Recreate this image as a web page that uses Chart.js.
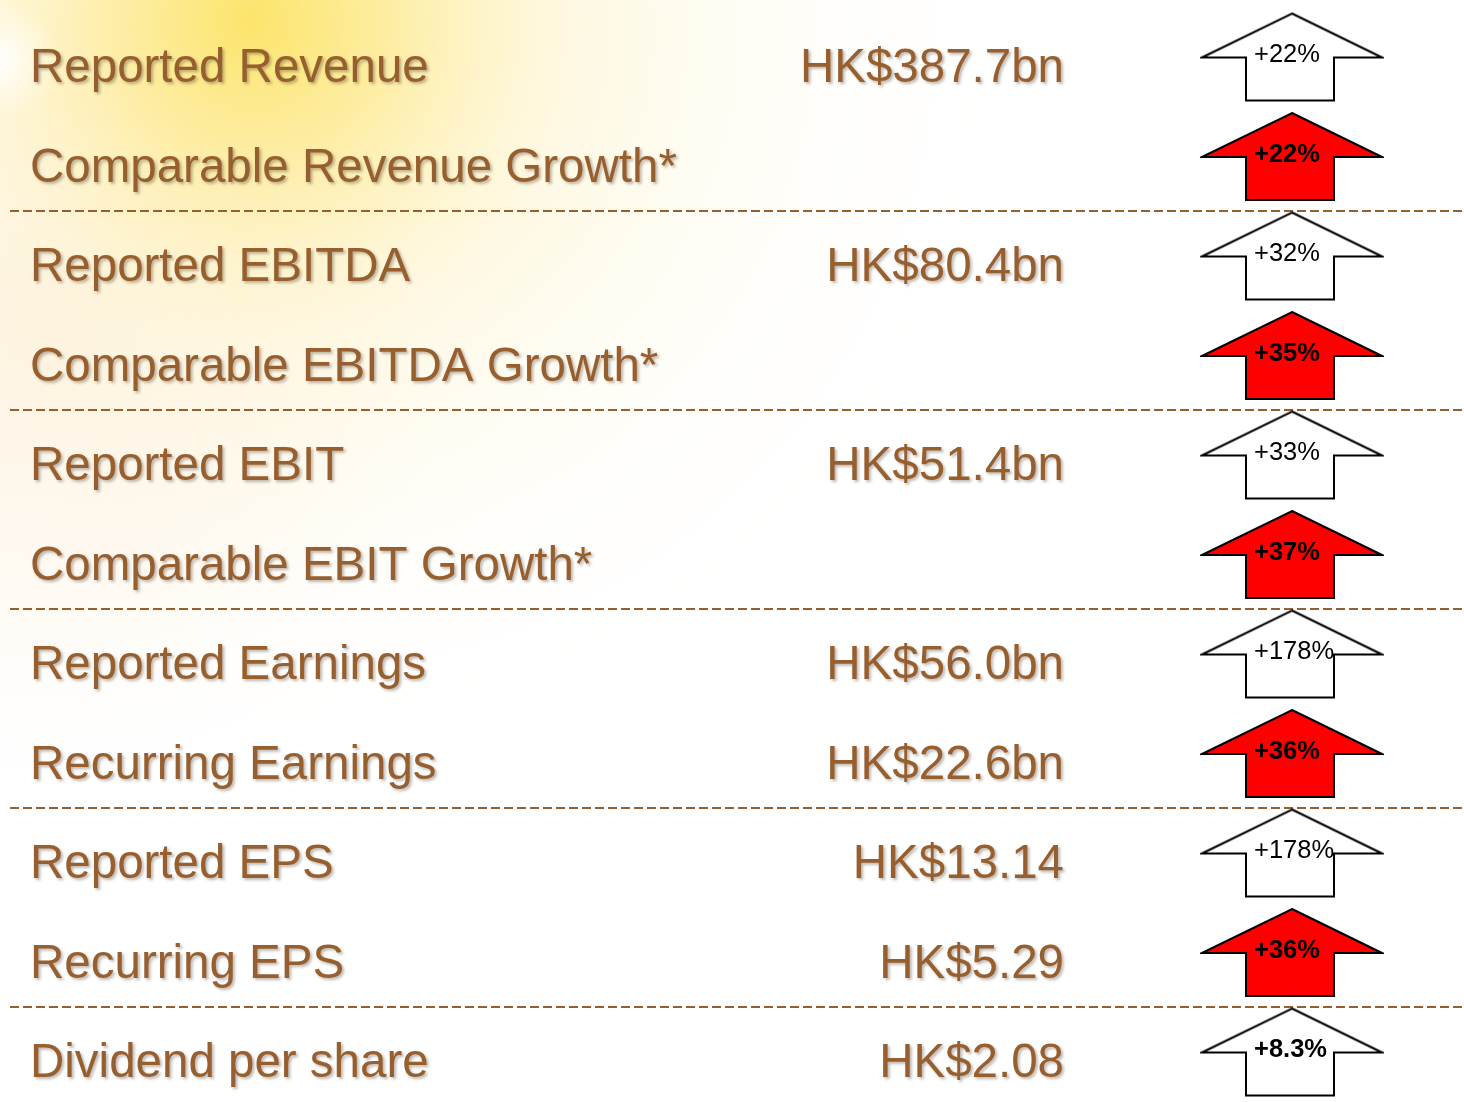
<!DOCTYPE html>
<html>
<head>
<meta charset="utf-8">
<title>Results summary</title>
<script src="https://cdn.jsdelivr.net/npm/chart.js@4.4.0/dist/chart.umd.min.js"></script>
<style>
  html, body { margin: 0; padding: 0; background: #fff; overflow: hidden; }
  #wrap { width: 1464px; height: 1102px; position: relative; }
  #summary { display: block; }
</style>
</head>
<body>
<div id="wrap"><canvas id="summary"></canvas></div>
<script>
// rows of the slide
const metrics = ['Reported Revenue', 'Comparable Revenue Growth*', 'Reported EBITDA', 'Comparable EBITDA Growth*',
  'Reported EBIT', 'Comparable EBIT Growth*', 'Reported Earnings', 'Recurring Earnings',
  'Reported EPS', 'Recurring EPS', 'Dividend per share'];
const amounts = ['HK$387.7bn', '', 'HK$80.4bn', '', 'HK$51.4bn', '', 'HK$56.0bn', 'HK$22.6bn',
  'HK$13.14', 'HK$5.29', 'HK$2.08'];
const growthPct = [22, 22, 32, 35, 33, 37, 178, 36, 178, 36, 8.3];
const redArrow = [false, true, false, true, false, true, false, true, false, true, false];
const boldGrowth = [false, true, false, true, false, true, false, true, false, true, true];
const groupEnds = [1, 3, 5, 7, 9]; // dashed separator after these rows

// layout
const ARROW_X = 1292;
const LABEL_X = 30;
const AMOUNT_RIGHT = 1064;
const BROWN = '#985f2e';
const FONT = '"Liberation Sans", Arial, sans-serif';

// arrow glyph used as point style (offset 8px up inside the image)
function makeArrow(fill) {
  const c = document.createElement('canvas');
  c.width = 184; c.height = 107;
  const g = c.getContext('2d');
  g.beginPath();
  g.moveTo(92, 2);
  g.lineTo(182, 46);
  g.lineTo(134, 46);
  g.lineTo(134, 89);
  g.lineTo(46, 89);
  g.lineTo(46, 46);
  g.lineTo(2, 46);
  g.closePath();
  g.fillStyle = fill;
  g.fill();
  g.lineWidth = 2;
  g.strokeStyle = '#000';
  g.stroke();
  return c;
}
const whiteArrow = makeArrow('#ffffff');
const redArrowImg = makeArrow('#ff0000');

const backdrop = {
  id: 'backdrop',
  beforeDraw(chart) {
    const ctx = chart.ctx;
    const w = chart.width, h = chart.height;
    ctx.save();
    ctx.fillStyle = '#ffffff';
    ctx.fillRect(0, 0, w, h);
    // peach haze down the left side
    let g = ctx.createRadialGradient(40, 330, 0, 40, 330, 480);
    g.addColorStop(0, 'rgba(252,226,194,0.55)');
    g.addColorStop(0.6, 'rgba(253,240,220,0.3)');
    g.addColorStop(1, 'rgba(255,255,255,0)');
    ctx.fillStyle = g;
    ctx.fillRect(0, 0, w, h);
    // cream glow top-left
    g = ctx.createRadialGradient(300, 30, 0, 300, 30, 720);
    g.addColorStop(0, 'rgba(253,238,170,0.8)');
    g.addColorStop(0.5, 'rgba(254,246,218,0.5)');
    g.addColorStop(1, 'rgba(255,255,255,0)');
    ctx.fillStyle = g;
    ctx.fillRect(0, 0, w, h);
    // yellow sun
    g = ctx.createRadialGradient(250, 20, 0, 250, 20, 340);
    g.addColorStop(0, 'rgba(252,226,90,0.85)');
    g.addColorStop(0.4, 'rgba(253,232,135,0.6)');
    g.addColorStop(1, 'rgba(255,245,210,0)');
    ctx.fillStyle = g;
    ctx.fillRect(0, 0, w, h);
    // white flare at the left edge
    g = ctx.createRadialGradient(0, 60, 0, 0, 60, 60);
    g.addColorStop(0, 'rgba(255,255,255,0.9)');
    g.addColorStop(1, 'rgba(255,255,255,0)');
    ctx.fillStyle = g;
    ctx.fillRect(0, 0, 120, 140);
    ctx.restore();
  }
};

const tableText = {
  id: 'tableText',
  beforeDatasetsDraw(chart) {
    const ctx = chart.ctx;
    const y = chart.scales.y;
    ctx.save();
    // dashed separators
    ctx.strokeStyle = BROWN;
    ctx.lineWidth = 2;
    ctx.setLineDash([9, 4]);
    groupEnds.forEach(i => {
      const yy = Math.round((y.getPixelForValue(i) + y.getPixelForValue(i + 1)) / 2 - 3);
      ctx.beginPath();
      ctx.moveTo(10, yy);
      ctx.lineTo(chart.width, yy);
      ctx.stroke();
    });
    ctx.setLineDash([]);
    // labels and amounts
    ctx.font = '47.5px ' + FONT;
    ctx.fillStyle = BROWN;
    ctx.shadowColor = 'rgba(60,50,40,0.35)';
    ctx.shadowOffsetX = 2;
    ctx.shadowOffsetY = 2;
    ctx.shadowBlur = 3;
    ctx.textBaseline = 'alphabetic';
    metrics.forEach((m, i) => {
      const base = y.getPixelForValue(i) + 17;
      ctx.textAlign = 'left';
      ctx.fillText(m, LABEL_X, base);
      if (amounts[i]) {
        ctx.textAlign = 'right';
        ctx.fillText(amounts[i], AMOUNT_RIGHT, base);
      }
    });
    ctx.restore();
  },
  afterDatasetsDraw(chart) {
    const ctx = chart.ctx;
    const pts = chart.getDatasetMeta(0).data;
    ctx.save();
    ctx.fillStyle = '#000';
    ctx.textAlign = 'left';
    ctx.textBaseline = 'alphabetic';
    pts.forEach((p, i) => {
      ctx.font = (boldGrowth[i] ? 'bold ' : '') + '25.5px ' + FONT;
      ctx.fillText('+' + growthPct[i] + '%', p.x - 38, p.y - 3);
    });
    ctx.restore();
  }
};

new Chart(document.getElementById('summary'), {
  type: 'scatter',
  data: {
    datasets: [{
      data: metrics.map((m, i) => ({ x: ARROW_X, y: m, pct: growthPct[i] })),
      pointStyle: redArrow.map(r => r ? redArrowImg : whiteArrow),
      pointRadius: 10,
      clip: false
    }]
  },
  options: {
    responsive: true,
    maintainAspectRatio: false,
    animation: false,
    events: [],
    layout: { autoPadding: false, padding: { top: 65, bottom: 42, left: 0, right: 0 } },
    plugins: { legend: { display: false }, tooltip: { enabled: false } },
    scales: {
      x: { type: 'linear', min: 0, max: 1464, display: false },
      y: { type: 'category', labels: metrics, offset: false, display: false }
    }
  },
  plugins: [backdrop, tableText]
});
</script>
</body>
</html>
